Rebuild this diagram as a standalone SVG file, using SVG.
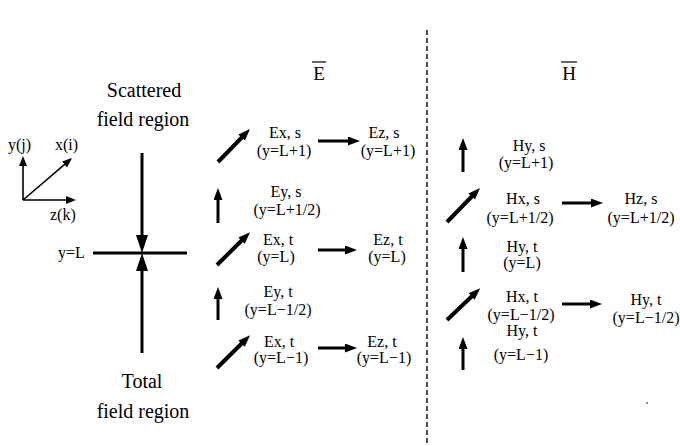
<svg xmlns="http://www.w3.org/2000/svg" width="680" height="446" viewBox="0 0 680 446" font-family="'Liberation Serif', 'DejaVu Serif', serif">
<style>
text{font-family:'Liberation Serif','DejaVu Serif',serif;fill:#000}
.lbl{font-size:16px;text-anchor:middle}
.big{font-size:20px;text-anchor:middle}
.ttl{font-size:19px;text-anchor:middle}
.ax{font-size:16px}
.a{stroke:#000;stroke-width:3;fill:none;marker-end:url(#ah)}
.d{stroke:#000;stroke-width:4;fill:none;marker-end:url(#ah)}
.s{stroke:#000;stroke-width:1.6;fill:none;marker-end:url(#sm)}
.m{stroke:#000;stroke-width:3;fill:none;marker-end:url(#bg)}
</style>
<defs>
<marker id="ah" markerUnits="userSpaceOnUse" markerWidth="13" markerHeight="10" refX="3" refY="4.5" orient="auto"><path d="M0,0 L12,4.5 L0,9 z" fill="#000"/></marker>
<marker id="sm" markerUnits="userSpaceOnUse" markerWidth="11" markerHeight="9" refX="3" refY="4" orient="auto"><path d="M0,0 L10,4 L0,8 z" fill="#000"/></marker>
<marker id="bg" markerUnits="userSpaceOnUse" markerWidth="19" markerHeight="13" refX="4" refY="6" orient="auto"><path d="M0,0 L18,6 L0,12 z" fill="#000"/></marker>
</defs>

<g id="axes">
<line class="s" x1="23" y1="200" x2="23" y2="163"/>
<line class="s" x1="23" y1="200" x2="66.7" y2="162.6"/>
<line class="s" x1="23" y1="200" x2="69" y2="200"/>
<text class="ax" x="8" y="150">y(j)</text>
<text class="ax" x="55" y="150">x(i)</text>
<text class="ax" x="50" y="220">z(k)</text>
</g>

<g id="scattered-label">
<text class="big" x="144" y="97">Scattered</text>
<text class="big" x="143" y="126">field region</text>
</g>
<g id="total-label">
<text class="big" x="142" y="388">Total</text>
<text class="big" x="143" y="418">field region</text>
</g>
<g id="boundary">
<line x1="93" y1="253" x2="187" y2="253" stroke="#000" stroke-width="3"/>
<text class="ax" x="58" y="258">y=L</text>
</g>

<g id="titles">
<text class="ttl" x="319" y="80">E</text>
<line x1="312" y1="62" x2="326" y2="62" stroke="#000" stroke-width="1.2"/>
<text class="ttl" x="569" y="80">H</text>
<line x1="561" y1="62" x2="577" y2="62" stroke="#000" stroke-width="1.2"/>
</g>

<g id="divider">
<line x1="427" y1="30" x2="427" y2="446" stroke="#000" stroke-width="1.4" stroke-dasharray="5 3"/>
</g>

<g id="E-Ex-s"><text class="lbl" x="285" y="138">Ex, s</text><text class="lbl" x="284" y="156">(y=L+1)</text></g>
<g id="E-Ez-s"><text class="lbl" x="384" y="138">Ez, s</text><text class="lbl" x="388" y="156">(y=L+1)</text></g>
<g id="E-Ey-s"><text class="lbl" x="286" y="197">Ey, s</text><text class="lbl" x="287" y="215">(y=L+1/2)</text></g>
<g id="E-Ex-t1"><text class="lbl" x="278" y="245">Ex, t</text><text class="lbl" x="276" y="262">(y=L)</text></g>
<g id="E-Ez-t1"><text class="lbl" x="388" y="245">Ez, t</text><text class="lbl" x="387" y="262">(y=L)</text></g>
<g id="E-Ey-t"><text class="lbl" x="278" y="297">Ey, t</text><text class="lbl" x="278" y="315">(y=L−1/2)</text></g>
<g id="E-Ex-t2"><text class="lbl" x="279" y="347">Ex, t</text><text class="lbl" x="281" y="363">(y=L−1)</text></g>
<g id="E-Ez-t2"><text class="lbl" x="382" y="347">Ez, t</text><text class="lbl" x="384" y="363">(y=L−1)</text></g>

<g id="H-Hy-s"><text class="lbl" x="529" y="151">Hy, s</text><text class="lbl" x="526" y="168">(y=L+1)</text></g>
<g id="H-Hx-s"><text class="lbl" x="523" y="204">Hx, s</text><text class="lbl" x="520" y="223">(y=L+1/2)</text></g>
<g id="H-Hz-s"><text class="lbl" x="641" y="204">Hz, s</text><text class="lbl" x="641" y="223">(y=L+1/2)</text></g>
<g id="H-Hy-t1"><text class="lbl" x="522" y="252">Hy, t</text><text class="lbl" x="522" y="268">(y=L)</text></g>
<g id="H-Hx-t"><text class="lbl" x="522" y="302">Hx, t</text><text class="lbl" x="521" y="320">(y=L−1/2)</text></g>
<g id="H-Hy-t3"><text class="lbl" x="646" y="305">Hy, t</text><text class="lbl" x="646" y="323">(y=L−1/2)</text></g>
<g id="H-Hy-t2"><text class="lbl" x="522" y="336">Hy, t</text><text class="lbl" x="521" y="360">(y=L−1)</text></g>

<g id="connectors">
<line class="m" x1="142" y1="153" x2="142" y2="239"/>
<line class="m" x1="142" y1="353" x2="142" y2="267"/>
<line class="d" x1="218" y1="162" x2="243.7" y2="135.5"/>
<line class="a" x1="318" y1="141" x2="351" y2="141"/>
<line class="a" x1="218" y1="223" x2="218" y2="197"/>
<line class="d" x1="217" y1="265" x2="243.7" y2="238.5"/>
<line class="a" x1="318" y1="250" x2="348" y2="250"/>
<line class="a" x1="218" y1="320" x2="218" y2="296"/>
<line class="d" x1="217" y1="368" x2="243.7" y2="341.5"/>
<line class="a" x1="318" y1="348" x2="348" y2="348"/>
<line class="a" x1="463" y1="172" x2="463" y2="147"/>
<line class="d" x1="447" y1="222" x2="473.7" y2="194.5"/>
<line class="a" x1="562" y1="203" x2="594" y2="203"/>
<line class="a" x1="463" y1="272" x2="463" y2="246"/>
<line class="d" x1="447" y1="320" x2="473.7" y2="294.5"/>
<line class="a" x1="562" y1="304" x2="593" y2="304"/>
<line class="a" x1="463" y1="370" x2="463" y2="346"/>
</g>
<circle cx="647" cy="403" r="0.9" fill="#555"/>
</svg>
